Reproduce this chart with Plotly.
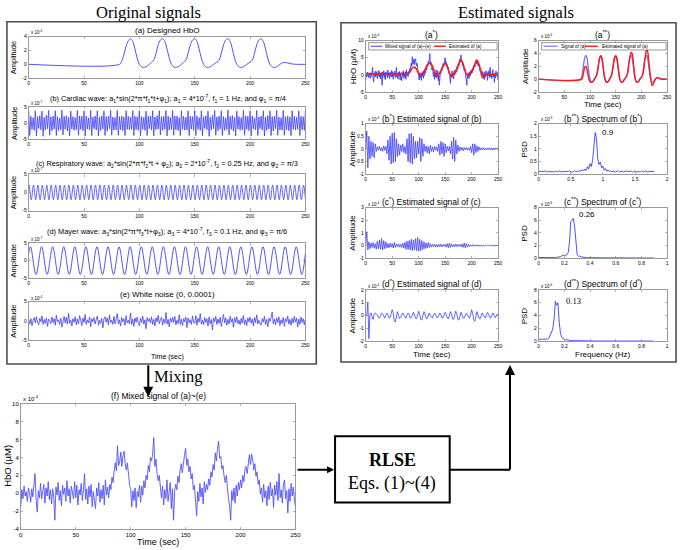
import numpy as np
import plotly.graph_objects as go

# ======================= DATA (values in units of each axis multiplier) =======================
# (a) Designed HbO  (x10^-4)
hbo_t = [0, 82, 84, 86, 88, 90, 92, 94, 96, 98, 100, 103, 106, 109, 111, 113, 115, 117, 119, 121,
         123, 125, 127, 129, 132, 135, 138, 140, 142, 144, 146, 148, 150, 152, 154, 156, 158, 161, 164, 167,
         170, 172, 174, 176, 178, 180, 182, 184, 186, 188, 191, 194, 197, 200, 202, 204, 206, 208, 210, 212,
         214, 216, 218, 221, 224, 227, 230, 234, 238, 242, 250]
hbo_v = [0, 0, 0.4, 1.4, 2.6, 3.4, 3.7, 3.3, 2.2, 0.9, 0.0, -0.45, -0.35, 0.0, 0.3, 0.6, 1.6, 2.8, 3.5, 3.7,
         3.3, 2.2, 0.9, 0.0, -0.45, -0.35, 0.0, 0.3, 0.6, 1.6, 2.8, 3.5, 3.7, 3.3, 2.2, 0.9, 0.0, -0.45, -0.35, 0.0,
         0.3, 0.6, 1.6, 2.8, 3.5, 3.7, 3.3, 2.2, 0.9, 0.0, -0.45, -0.35, 0.0, 0.3, 0.6, 1.6, 2.8, 3.5, 3.7, 3.3,
         2.2, 0.9, 0.0, -0.45, -0.35, 0.0, 0.25, 0.2, 0.05, 0, 0]

# (b) Cardiac wave (x10^-7), one value per second
cardiac_v = [
    3.9, -3.8, 2.1, -1.9, 1.7, -2.2, 3.8, -3.9, 2.0, -1.6, 2.3, -2.0, 3.7, -4.0, 1.8, -2.1, 2.4, -1.7, 3.9, -3.7,
    1.9, -2.3, 2.2, -1.8, 3.8, -3.8, 2.0, -2.2, 1.6, -2.0, 4.0, -3.6, 2.1, -1.9, 2.3, -2.4, 1.8, -3.9, 3.7, -1.8,
    2.0, -2.2, 1.7, -2.0, 3.9, -3.7, 2.2, -1.9, 2.1, -2.3, 3.8, -3.9, 2.2, -1.8, 1.6, -2.1, 3.9, -3.8, 1.9, -1.7,
    2.2, -2.1, 3.8, -3.9, 1.9, -2.2, 2.3, -1.8, 3.8, -3.8, 2.0, -2.4, 2.1, -1.7, 3.9, -3.7, 1.9, -2.1, 1.7, -2.1,
    3.9, -3.7, 2.0, -2.0, 2.2, -2.3, 1.9, -3.8, 3.8, -1.9, 2.1, -2.1, 1.8, -1.9, 3.8, -3.8, 2.1, -2.0, 2.0, -2.2,
    3.8, -3.9, 2.0, -1.9, 1.8, -2.2, 3.7, -3.8, 2.1, -1.7, 2.2, -2.1, 3.8, -3.9, 1.9, -2.0, 2.3, -1.8, 3.8, -3.6,
    2.0, -2.2, 2.1, -1.9, 3.9, -3.9, 2.1, -2.1, 1.7, -1.9, 3.9, -3.7, 2.2, -2.0, 2.2, -2.3, 1.7, -3.8, 3.8, -1.9,
    2.1, -2.1, 1.8, -2.1, 3.8, -3.8, 2.1, -1.8, 2.0, -2.2, 3.9, -3.8, 2.2, -1.9, 1.7, -2.2, 3.8, -3.9, 2.0, -1.6,
    2.3, -2.0, 3.7, -4.0, 1.8, -2.1, 2.4, -1.7, 3.9, -3.7, 1.9, -2.3, 2.2, -1.8, 3.8, -3.8, 2.0, -2.2, 1.6, -2.0,
    4.0, -3.6, 2.1, -1.9, 2.3, -2.4, 1.8, -3.9, 3.7, -1.8, 2.0, -2.2, 1.7, -2.0, 3.9, -3.7, 2.2, -1.9, 2.1, -2.3,
    3.8, -3.9, 2.2, -1.8, 1.6, -2.1, 3.9, -3.8, 1.9, -1.7, 2.2, -2.1, 3.8, -3.9, 1.9, -2.2, 2.3, -1.8, 3.8, -3.8,
    2.0, -2.4, 2.1, -1.7, 3.9, -3.7, 1.9, -2.1, 1.7, -2.1, 3.9, -3.7, 2.0, -2.0, 2.2, -2.3, 1.9, -3.8, 3.8, -1.9,
    2.1, -2.1, 1.8, -1.9, 3.8, -3.8, 2.1, -2.0, 2.0, -2.2, 3.8]

# (c) Respiratory wave (x10^-7): value at start, at each crest/trough, and at the end
resp_v = [1.7,
          2, -2, 2, -2, 2, -2, 2, -2, 2, -2, 2, -2, 2, -2, 2, -2, 2, -2, 2, -2,
          2, -2, 2, -2, 2, -2, 2, -2, 2, -2, 2, -2, 2, -2, 2, -2, 2, -2, 2, -2,
          2, -2, 2, -2, 2, -2, 2, -2, 2, -2, 2, -2, 2, -2, 2, -2, 2, -2, 2, -2,
          2, -2, 2, -2, 2, -2, 2, -2, 2, -2, 2, -2, 2, -2, 2, -2, 2, -2, 2, -2,
          2, -2, 2, -2, 2, -2, 2, -2, 2, -2, 2, -2, 2, -2, 2, -2, 2, -2, 2, -2,
          2, -2, 2, -2, 2, -2, 2, -2, 2, -2, 2, -2, 2, -2, 2, -2, 2, -2, 2, -2,
          2, -2, 2, -2, 2,
          -1.7]

# (d) Mayer wave (x10^-7): start, crests/troughs, end
mayer_v = [2,
           4, -4, 4, -4, 4, -4, 4, -4, 4, -4, 4, -4, 4, -4, 4, -4, 4, -4, 4, -4,
           4, -4, 4, -4, 4, -4, 4, -4, 4, -4, 4, -4, 4, -4, 4, -4, 4, -4, 4, -4,
           4, -4, 4, -4, 4, -4, 4, -4, 4, -4,
           2]

# (e) White noise (x10^-4), one value per second
noise_v = [
    0.3, -0.8, 0.6, -1.2, 0.2, 0.9, -0.5, 1.1, -0.3, -1.0, 0.7, -0.2, 1.3, -0.9, 0.4, -0.6, 0.8, -1.4, 0.5, 0.1,
    -0.7, 1.0, -0.4, 0.6, -1.1, 1.5, -0.2, 0.3, -0.9, 0.7, -1.6, 0.4, 1.2, -0.5, 0.9, -0.8, 2.0, -0.6, 0.2, -1.3,
    0.6, -0.3, 1.1, -1.0, 0.5, -0.7, 1.4, 0.1, -1.2, 0.8, -0.4, 1.7, -0.9, 0.3, -0.5, 1.0, -1.5, 0.6, -0.2, 0.9,
    -0.8, 0.4, 1.3, -1.1, 0.2, -0.6, 0.7, -1.8, 0.5, 1.1, -0.3, 0.8, -1.0, 1.6, -0.4, 0.2, -0.9, 1.2, -0.7, 0.5,
    1.9, -0.8, 0.3, -1.3, 0.9, -0.2, 0.6, -1.1, 1.4, -0.5, 0.2, -0.7, 2.1, -0.9, 0.5, -1.4, 0.8, -0.3, 1.0, -0.6,
    -1.2, 0.7, -0.4, 1.3, -0.8, 0.3, -2.0, 0.9, -0.1, 0.6, -0.5, 1.1, -0.9, 0.4, -1.3, 0.8, -0.2, 1.5, -0.7, 0.3,
    1.0, -1.1, 0.5, -0.6, 2.2, -0.8, 0.4, -1.5, 0.7, -0.3, 0.9, -0.4, 1.2, -1.0, 0.2, -0.7, 1.6, -0.9, 0.5, -1.2,
    0.6, -0.2, 1.0, -1.7, 0.8, -0.5, 0.3, -0.9, 1.3, -0.4, -0.6, 1.4, -1.1, 0.7, -0.3, 1.9, -0.8, 0.2, -1.0, 0.9,
    -0.4, 0.6, -1.3, 1.1, -0.7, 0.4, -2.3, 0.8, -0.2, 1.2, -0.9, 0.5, -0.6, 1.0, -1.4, 0.3, 1.7, -0.5, 0.8, -1.1,
    0.4, -0.8, 1.2, -0.3, 0.6, -1.6, 0.9, -0.4, 1.1, -0.7, 0.2, -1.0, 0.7, -0.5, 1.4, -0.9, 0.3, -1.2, 0.8, -0.2,
    1.0, -0.6, 0.5, -1.3, 0.9, -0.4, 1.6, -0.8, 0.2, -0.7, -1.1, 0.6, -0.3, 1.2, -0.9, 0.4, -1.5, 0.7, -0.1, 1.0,
    2.3, -0.7, 0.5, -1.0, 0.8, -0.4, 1.1, -1.2, 0.3, -0.6, 0.9, -1.4, 0.6, -0.2, 1.3, -0.8, 0.4, -1.1, 0.7, -0.5,
    1.2, -0.3, 0.8, -1.6, 0.5, -0.9, 1.0, -0.4, 0.6, -1.0, 0.4]

# (f) Mixed signal of (a)~(e) (x10^-4), one value per second
mixed_v = [
    -1.5, 0.4, -0.6, 0.8, -0.3, 0.2, -0.9, 0.6, 0.1, -1.0, 0.5, -0.4, 1.0, 2.2, -0.8, -2.1, 0.3, -0.5, 1.1, -0.6,
    0.2, 1.0, -1.1, 0.6, -0.3, 1.3, -0.7, 0.4, -1.2, 0.5, -0.4, -3.0, 0.7, -0.2, 1.2, -0.8, 0.3, -1.4, 0.9, -0.1,
    0.6, -0.9, 1.4, -0.3, 0.5, -1.1, 0.8, 0.0, -0.6, 1.3, -0.5, 0.9, -1.3, 0.4, -0.2, 1.1, -0.8, 0.3, 2.2, -0.7,
    0.5, -1.2, 0.8, -0.4, 1.0, -1.5, 0.2, -0.9, -1.7, 0.6, -0.3, 1.2, -1.0, 0.4, -0.6, 0.9, -1.3, 1.5, -0.2, 0.7,
    -0.5, 1.0, 0.4, 1.8, 1.2, 2.6, 3.4, 2.5, 5.3, 3.1, 3.5, 4.6, 3.0, 4.2, 4.7, 3.3, 2.6, 3.4, 1.8, 0.9,
    0.5, -1.5, 0.3, -0.8, 0.6, -1.6, 0.2, -0.4, 0.9, -1.0, 0.8, -0.2, 1.4, 0.6, 2.0, 1.5, 3.1, 2.4, 4.0, 3.6,
    4.4, 6.2, 3.0, 3.8, 2.2, 1.4, 2.0, 0.3, -0.5, 0.8, -1.3, 0.4, -0.6, 1.5, -0.9, 0.2, 1.2, -1.7, 0.5, -3.0,
    0.3, 1.0, 0.4, 1.9, 1.2, 2.6, 3.3, 2.3, 3.5, 4.3, 5.0, 3.1, 3.8, 2.4, 3.0, 1.6, 2.2, 0.4, 0.9, -0.7,
    -2.5, 0.2, -0.9, 1.1, -0.4, 0.6, -1.2, 1.3, 0.1, 1.0, 0.4, 1.6, 0.9, 2.4, 1.8, 3.2, 2.6, 4.5, 3.6, 5.0,
    5.8, 3.9, 4.1, 2.7, 3.1, 1.9, 1.2, 2.0, 0.2, -0.6, -1.4, -3.0, 0.3, -0.8, 0.6, -1.1, 0.9, -0.3, 1.2, 0.4,
    1.5, 0.6, 2.0, 1.3, 2.8, 3.0, 2.2, 3.6, 4.3, 3.2, 4.4, 3.8, 2.6, 3.3, 1.9, 2.4, 1.0, 1.5, -0.1, 0.6,
    -1.0, 1.0, -0.5, 0.3, -1.4, 0.8, -0.7, 1.2, -0.3, 0.5, -1.6, 0.9, -0.2, 1.3, -0.8, 2.2, -0.5, 0.4, -1.1, 1.0,
    1.5, -0.6, 0.3, -2.2, 0.5, -0.9, 1.1, -0.3, 0.7, -0.8, -1.5]

# (a*) Estimated of (a) (x10^-4)
est_a_t = [0, 10, 20, 30, 40, 50, 60, 70, 80, 84, 88, 92, 96, 100, 104, 108, 112, 116, 121, 126,
           130, 134, 138, 142, 146, 150, 154, 158, 162, 166, 170, 174, 177, 180, 183, 186, 190, 194, 198, 202,
           206, 210, 214, 218, 222, 226, 232, 240, 250]
est_a_v = [0.3, 0.4, 0.2, 0.5, 0.3, 0.4, 0.2, 0.5, 0.3, 1.0, 2.0, 2.3, 1.6, 0.5, 0.2, 0.6, 1.5, 2.8, 3.5, 2.6,
           0.8, -0.3, 0.2, 1.2, 2.6, 3.3, 2.4, 0.6, -0.5, 0.0, 1.2, 2.6, 3.6, 4.3, 3.6, 2.0, 0.3, -0.3, 0.4, 1.6,
           3.0, 4.3, 3.0, 0.8, -0.8, -0.2, 0.1, 0.0, 0.0]

# (a**) Estimated signal of (a) (x10^-4)
est_a2_t = [0, 84, 86, 88, 90, 92, 94, 96, 98, 100, 103, 106, 109, 112, 115, 117, 119, 121, 123, 125,
            127, 129, 132, 135, 138, 141, 144, 146, 148, 150, 152, 154, 156, 158, 161, 164, 167, 170, 173, 176,
            178, 180, 182, 184, 186, 188, 191, 194, 197, 200, 203, 206, 208, 210, 212, 214, 216, 218, 221, 224,
            227, 230, 234, 238, 250]
est_a2_v = [0, 0, 0.5, 1.3, 1.9, 2.0, 1.5, 0.7, 0.0, -0.4, -0.5, -0.3, 0.1, 0.5, 1.4, 2.5, 3.3, 3.6, 3.3, 2.2,
            0.9, 0.0, -0.5, -0.4, 0.0, 0.4, 1.5, 2.6, 3.3, 3.6, 3.3, 2.3, 1.0, 0.0, -0.5, -0.4, 0.0, 0.3, 0.9, 2.6,
            3.6, 4.2, 4.0, 2.8, 1.2, 0.0, -0.5, -0.4, 0.0, 0.3, 0.9, 2.6, 3.8, 4.6, 4.3, 3.0, 1.5, 0.2, -1.0, -0.6,
            0.0, 0.2, 0.15, 0.0, 0.0]

# (b*) Estimated signal of (b) (x10^-4), one value every 2 s
est_b_v = [
    0.0, 0.7, -0.75, 0.5, -0.4, 0.3, -0.3, 0.25, -0.35, 0.2,
    -0.1, 0.08, -0.05, 0.1, -0.08, 0.05, -0.1, 0.12, -0.06, 0.1,
    -0.2, 0.35, -0.45, 0.5, -0.6, 0.62, -0.55, 0.65, -0.5, 0.4,
    -0.3, 0.2, -0.25, 0.15, -0.1, 0.2, -0.15, 0.1,
    -0.2, 0.4, -0.5, 0.6, -0.55, 0.62, -0.6, 0.5, -0.4, 0.3,
    -0.35, 0.3, -0.2, 0.45, -0.5, 0.4, -0.3, 0.2,
    -0.1, 0.12, -0.15, 0.1, -0.2, 0.15, -0.1, 0.08, -0.12, 0.1, -0.05, 0.08, -0.1, 0.2,
    -0.25, 0.3, -0.2, 0.25, -0.3, 0.2, -0.15, 0.1, -0.08, 0.1,
    -0.2, 0.3, -0.4, 0.45, -0.5, 0.35, -0.2, 0.15, -0.1, 0.08,
    -0.05, 0.06, -0.08, 0.05, -0.04, 0.06, -0.05, 0.04, -0.06, 0.1,
    -0.15, 0.2, -0.25, 0.2, -0.15, 0.12, -0.1, 0.08,
    -0.05, 0.04, -0.03, 0.05, -0.04, 0.03, -0.05, 0.04, -0.03, 0.05, -0.04, 0.03, -0.05, 0.04, -0.03, 0.04,
    -0.02, 0.0]

# (b**) Spectrum of (b*) (x10^-3), frequency step 0.02 Hz from 0 to 1.8
spec_b_v = [
    0.1, 0.12, 0.09, 0.11, 0.1, 0.13, 0.08, 0.1, 0.12, 0.09, 0.11, 0.1, 0.08, 0.12, 0.1, 0.09, 0.13, 0.1, 0.08, 0.11,
    0.1, 0.12, 0.09, 0.1, 0.13, 0.08, 0.07, 0.1, 0.14, 0.09, 0.12, 0.1, 0.15, 0.11, 0.18,
    0.12, 0.2, 0.15, 0.3, 0.2, 0.42, 0.3, 0.55, 1.1, 1.65, 1.4, 0.6, 0.38, 0.48, 0.25, 0.32, 0.15, 0.22, 0.12, 0.16, 0.1,
    0.13, 0.09, 0.12, 0.1, 0.08, 0.11, 0.13, 0.09, 0.1, 0.12, 0.08, 0.1, 0.13, 0.1, 0.09, 0.11, 0.12, 0.08, 0.1, 0.13,
    0.09, 0.11, 0.1, 0.08, 0.12, 0.1, 0.09, 0.13, 0.1, 0.08, 0.11, 0.1, 0.12, 0.09, 0.1]

# (c*) Estimated signal of (c) (x10^-4), every 2 s
est_c_v = [
    0.0, 1.1, -0.35, 0.3, -0.25, 0.2, -0.15, 0.25, -0.2, 0.15,
    -0.3, 0.35, -0.25, 0.45, -0.3, 0.55, -0.35, 0.4, -0.25, 0.3,
    -0.2, 0.15, -0.18, 0.2, -0.12, 0.15, -0.2, 0.25, -0.15, 0.12, -0.1, 0.15, -0.12, 0.1, -0.15,
    0.2, -0.2, 0.25, -0.3, 0.35, -0.3, 0.4, -0.35, 0.5, -0.4, 0.45, -0.35, 0.55, -0.4, 0.65, -0.45, 0.5, -0.4, 0.4, -0.3,
    0.3, -0.25, 0.2, -0.2, 0.25, -0.15, 0.15, -0.12, 0.1, -0.1,
    0.12, -0.1, 0.08, -0.12, 0.1, -0.08, 0.12, -0.1, 0.08, -0.06,
    0.1, -0.12, 0.15, -0.18, 0.2, -0.15, 0.12, -0.1, 0.08, -0.1,
    0.12, -0.08, 0.1, -0.06, 0.08, -0.1, 0.12, -0.15, 0.2, -0.18,
    0.15, -0.12, 0.1, -0.08, 0.06, -0.05, 0.08, -0.06, 0.05, -0.04,
    0.06, -0.05, 0.04, -0.06, 0.05, -0.04, 0.03, -0.05, 0.04, -0.03,
    0.05, -0.04, 0.03, -0.02, 0.04, -0.03, 0.02, -0.03, 0.02, -0.01,
    0.0]

# (c**) Spectrum of (c*) (x10^-6), step 0.01 Hz from 0 to 0.9
spec_c_v = [
    0.1, 0.08, 0.1, 0.09, 0.1, 0.11, 0.1, 0.09, 0.1, 0.12, 0.1, 0.11, 0.12, 0.1, 0.13, 0.15, 0.18, 0.25,
    0.35, 0.5, 0.45, 0.4, 0.55, 0.9, 2.5, 5.8, 6.0, 6.3, 5.0, 2.0, 0.5, 0.3, 0.35, 0.2, 0.15, 0.12,
    0.1, 0.09, 0.08, 0.1, 0.09, 0.08, 0.07, 0.08, 0.07, 0.06, 0.07, 0.06, 0.07, 0.06, 0.05, 0.06, 0.05, 0.06, 0.05, 0.05,
    0.06, 0.05, 0.05, 0.04, 0.05, 0.05, 0.04, 0.05, 0.04, 0.05, 0.04, 0.04, 0.05, 0.04, 0.04, 0.04, 0.03, 0.04, 0.04, 0.03,
    0.04, 0.03, 0.04, 0.03, 0.03, 0.04, 0.03, 0.03, 0.03, 0.04, 0.03, 0.03, 0.04, 0.03, 0.03]

# (d*) Estimated signal of (d) (x10^-4), every 2 s
est_d_v = [
    0.0, 0.0, 1.05, -1.8, 0.1, 0.2, -0.1, -0.3, 0.1, 0.2,
    0.15, 0.05, -0.15, -0.2, 0.0, 0.2, 0.1, -0.1, -0.2, 0.05,
    0.2, 0.05, -0.2, -0.15, 0.1, 0.45, 0.2, -0.4, -0.5, 0.1,
    0.3, 0.0, -0.25, -0.15, 0.1, 0.2, 0.05, -0.15, -0.2, 0.05,
    0.2, 0.1, -0.2, -0.15, 0.1, 0.25, 0.05, -0.2, -0.25, 0.05,
    0.35, 0.1, -0.3, -0.35, 0.05, 0.3, 0.1, -0.2, -0.25, 0.1,
    0.2, 0.0, -0.15, -0.2, 0.05, 0.2, 0.05, -0.15, -0.15, 0.1,
    0.2, 0.05, -0.2, -0.15, 0.1, 0.25, 0.1, -0.2, -0.25, 0.05,
    0.3, 0.1, -0.25, -0.3, 0.1, 0.35, 0.1, -0.3, -0.35, 0.05,
    0.25, 0.05, -0.2, -0.2, 0.1, 0.2, 0.05, -0.15, -0.2, 0.05,
    0.45, 0.15, -0.35, -0.45, 0.1, 0.3, 0.05, -0.2, -0.25, 0.1,
    0.2, 0.05, -0.15, -0.2, 0.05, 0.25, 0.1, -0.15, -0.2, 0.05,
    0.2, 0.05, -0.15, -0.1, 0.1, 0.05]

# (d**) Spectrum of (d*) (x10^-6), step 0.01 Hz from 0 to 0.9
spec_d_v = [
    0.3, 0.35, 0.3, 0.32, 0.3, 0.28, 0.3, 0.35,
    0.5, 0.9, 1.5, 1.9, 3.5, 6.2, 5.6, 6.0, 3.0, 1.2, 0.6, 0.4, 0.3,
    0.25, 0.2, 0.18, 0.15, 0.12, 0.1, 0.1, 0.09, 0.08, 0.08, 0.07, 0.07, 0.06, 0.06, 0.06, 0.05, 0.05, 0.05, 0.05, 0.05,
    0.04, 0.04, 0.04, 0.04, 0.04, 0.04, 0.04, 0.04, 0.04, 0.04, 0.04, 0.04, 0.03, 0.03, 0.03, 0.03, 0.03, 0.03, 0.03,
    0.03, 0.03, 0.03, 0.03, 0.03, 0.03, 0.03, 0.03, 0.03, 0.03, 0.03, 0.03, 0.03, 0.03, 0.03, 0.03, 0.03, 0.03, 0.03,
    0.03, 0.03, 0.03, 0.03, 0.03, 0.03, 0.03, 0.03, 0.03, 0.03, 0.03]

# tick labels
time_ticks = [0, 50, 100, 150, 200, 250]
freq_ticks_b = [0, 0.5, 1, 1.5, 2]
freq_ticks_cd = [0, 0.2, 0.4, 0.6, 0.8, 1]

# sampling grids
t1 = np.arange(len(cardiac_v))                  # 1 s
t2 = np.arange(len(est_b_v)) * 2                 # 2 s
resp_t = np.concatenate([[0], 1 / 3 + 2 * np.arange(len(resp_v) - 2), [250]])
mayer_t = np.concatenate([[0], 5 / 3 + 5 * np.arange(len(mayer_v) - 2), [250]])
fb = np.arange(len(spec_b_v)) * 0.02
fc = np.arange(len(spec_c_v)) * 0.01
fd = np.arange(len(spec_d_v)) * 0.01

# ======================= LAYOUT HELPERS =======================
W, H = 685, 550
SANS = "Arial, Liberation Sans, sans-serif"
SERIF = "Times New Roman, Liberation Serif, serif"
BLUE = "rgb(60,60,255)"
RED = "rgb(255,25,25)"


def px(x):
    return x / W


def py(y):
    return 1 - y / H


fig = go.Figure()
layout = dict(width=W, height=H, margin=dict(l=0, r=0, t=0, b=0), autosize=False,
              paper_bgcolor="white", plot_bgcolor="white", showlegend=False)

# id, x0, x1, y0, y1 (pixels), xrange, xticks, yrange, yticks, tick font, exponent
panels = [
    (1, 27, 307, 34, 76, [0, 250], time_ticks, [-2, 4], [-2, 0, 2, 4], 5, "-4"),
    (2, 27, 307, 105, 138, [0, 250], time_ticks, [-5, 5], [-5, 0, 5], 5, "-7"),
    (3, 27, 307, 173, 210, [0, 250], time_ticks, [-5, 5], [-5, 0, 5], 5, "-7"),
    (4, 27, 307, 243, 278, [0, 250], time_ticks, [-5, 5], [-5, 0, 5], 5, "-7"),
    (5, 27, 307, 302, 341, [0, 250], time_ticks, [-5, 5], [-5, 0, 5], 5, "-4"),
    (6, 19, 297, 405, 532, [0, 250], time_ticks, [-4, 10], [-4, -2, 0, 2, 4, 6, 8, 10], 6, "-4"),
    (7, 368, 502, 38, 90, [0, 250], time_ticks, [-5, 10], [-5, 0, 5, 10], 5, "-4"),
    (8, 543, 673, 38, 90, [0, 250], time_ticks, [-2, 6], [-2, 0, 2, 4, 6], 5, "-4"),
    (9, 368, 502, 122, 173, [0, 250], time_ticks, [-1, 1], [-1, -0.5, 0, 0.5, 1], 5, "-4"),
    (10, 543, 673, 122, 173, [0, 2], freq_ticks_b, [0, 2], [0, 0.5, 1, 1.5, 2], 5, "-3"),
    (11, 368, 502, 207, 258, [0, 250], time_ticks, [-1, 3], [-1, 0, 1, 2, 3], 5, "-4"),
    (12, 543, 673, 207, 258, [0, 1], freq_ticks_cd, [0, 8], [0, 2, 4, 6, 8], 5, "-6"),
    (13, 368, 502, 290, 342, [0, 250], time_ticks, [-2, 2], [-2, -1, 0, 1, 2], 5, "-4"),
    (14, 543, 673, 290, 342, [0, 1], freq_ticks_cd, [0, 8], [0, 2, 4, 6, 8], 5, "-6"),
]

ann = []


def text(x, y, s, size, family=SANS, xanchor="center", yanchor="middle", angle=0, color="black"):
    ann.append(dict(x=px(x), y=py(y), xref="paper", yref="paper", text=s, showarrow=False,
                    font=dict(size=size, family=family, color=color), xanchor=xanchor, yanchor=yanchor,
                    textangle=angle, borderpad=0))


def ax_names(i):
    return ("x" if i == 1 else f"x{i}"), ("y" if i == 1 else f"y{i}")


for (i, x0, x1, y0, y1, xr, xt, yr, yt, fs, ex) in panels:
    xn, yn = ax_names(i)
    common = dict(showgrid=False, zeroline=False, showline=True, linecolor="#7f7f7f", linewidth=0.8,
                  mirror="ticks", ticks="inside", ticklen=2.5, tickwidth=0.6, tickcolor="#7f7f7f",
                  tickfont=dict(size=fs, family=SANS, color="black"), fixedrange=True)
    layout["xaxis" + ("" if i == 1 else str(i))] = dict(
        domain=[px(x0), px(x1)], anchor=yn, range=xr, tickvals=xt,
        ticktext=[f"{v:g}" for v in xt], **common)
    layout["yaxis" + ("" if i == 1 else str(i))] = dict(
        domain=[py(y1), py(y0)], anchor=xn, range=yr, tickvals=yt,
        ticktext=[f"{v:g}" for v in yt], **common)
    text(x0 + 1.5, y0 - 0.2, f"x 10<sup>{ex}</sup>", 4.5 if i != 6 else 6, xanchor="left", yanchor="bottom")


def line(i, x, y, color=BLUE, width=0.9, shape="linear"):
    xn, yn = ax_names(i)
    fig.add_trace(go.Scatter(x=x, y=y, xaxis=xn, yaxis=yn, mode="lines",
                             line=dict(color=color, width=width, shape=shape), hoverinfo="skip"))


# left column
line(1, hbo_t, hbo_v, color="rgb(80,80,255)", width=1, shape="spline")
line(2, t1, cardiac_v, width=0.8)
line(3, resp_t, resp_v, color="rgb(80,80,255)", width=0.9, shape="spline")
line(4, mayer_t, mayer_v, color="rgb(80,80,255)", width=1, shape="spline")
line(5, t1, noise_v, width=0.8)
line(6, t1, mixed_v, color="rgb(80,80,255)", width=0.9)
# right column
line(7, t1, mixed_v, width=0.9)
line(7, est_a_t, est_a_v, color=RED, width=1.6, shape="spline")
line(8, hbo_t, hbo_v, color="rgb(120,120,255)", width=1.4, shape="spline")
line(8, est_a2_t, est_a2_v, color=RED, width=1.4, shape="spline")
line(9, t2, est_b_v, width=0.8)
line(10, fb, spec_b_v, width=0.9)
line(11, t2, est_c_v, width=0.8)
line(12, fc, spec_c_v, width=0.9)
line(13, t2, est_d_v, width=0.8)
line(14, fd, spec_d_v, width=0.9)

# ---------- titles ----------
text(148, 10, "Original signals", 16.5, family=SERIF)
text(520, 10, "Estimated signals", 16.5, family=SERIF)

text(167, 28, "(a) Designed HbO", 8)
text(168, 97, "(b) Cardiac wave: a<sub>1</sub>*sin(2*π*f<sub>1</sub>*t+φ<sub>1</sub>); a<sub>1</sub> = 4*10<sup>-7</sup>, "
              "f<sub>1</sub> = 1 Hz, and φ<sub>1</sub> = π/4", 7.3)
text(167, 162, "(c) Respiratory wave: a<sub>2</sub>*sin(2*π*f<sub>2</sub>*t + φ<sub>2</sub>); a<sub>2</sub> = 2*10<sup>-7</sup>, "
               "f<sub>2</sub> = 0.25 Hz, and φ<sub>2</sub> = π/3", 7.3)
text(167, 231, "(d) Mayer wave: a<sub>3</sub>*sin(2*π*f<sub>3</sub>*t+φ<sub>3</sub>); a<sub>3</sub> = 4*10<sup>-7</sup>, "
               "f<sub>3</sub> = 0.1 Hz, and φ<sub>3</sub> = π/6", 7.4)
text(167, 295, "(e) White noise (0, 0.0001)", 8)
for yc in [55, 121.5, 191.5, 260.5, 321.5]:
    text(12, yc, "Amplitude", 7.5, angle=-90)
text(167, 358, "Time (sec)", 7)

text(158, 397, "(f) Mixed signal of (a)~(e)", 8.5)
text(6, 468, "HbO (µM)", 9.5, angle=-90)
text(158, 545, "Time (sec)", 9)

text(435, 32, "(a<sup>*</sup>)", 8.5)
text(608, 32, "(a<sup>**</sup>)", 8.5)
text(435, 117, "(b<sup>*</sup>) Estimated signal of (b)", 8.5)
text(608, 117, "(b<sup>**</sup>) Spectrum of (b<sup>*</sup>)", 8.5)
text(435, 201, "(c<sup>*</sup>) Estimated signal of (c)", 8.5)
text(608, 201, "(c<sup>**</sup>) Spectrum of (c<sup>*</sup>)", 8.5)
text(435, 284, "(d<sup>*</sup>) Estimated signal of (d)", 8.5)
text(608, 284, "(d<sup>**</sup>) Spectrum of (d<sup>*</sup>)", 8.5)

text(355, 64, "HbO (µM)", 8, angle=-90)
text(529, 64, "Amplitude", 8, angle=-90)
text(355, 147.5, "Amplitude", 8, angle=-90)
text(529, 147.5, "PSD", 8, angle=-90)
text(355, 232.5, "Amplitude", 8, angle=-90)
text(529, 232.5, "PSD", 8, angle=-90)
text(355, 316, "Amplitude", 8, angle=-90)
text(529, 316, "PSD", 8, angle=-90)
text(608, 103, "Time (sec)", 8)
text(435, 355, "Time (sec)", 8)
text(608, 355, "Frequency (Hz)", 8)

# peak labels (data coordinates)
ann.append(dict(x=0.95, y=1.65, xref="x10", yref="y10", text="0.9", showarrow=False, xanchor="left",
                font=dict(size=8, family=SANS, color="black")))
ann.append(dict(x=0.30, y=6.9, xref="x12", yref="y12", text="0.26", showarrow=False, xanchor="left",
                font=dict(size=8, family=SANS, color="black")))
ann.append(dict(x=0.20, y=6.3, xref="x14", yref="y14", text="0.13", showarrow=False, xanchor="left",
                font=dict(size=8.5, family=SERIF, color="black")))

# manual legends
shapes = []


def rect(x0, y0, x1, y1, color, width, fill=None):
    shapes.append(dict(type="rect", xref="paper", yref="paper", x0=px(x0), x1=px(x1), y0=py(y1), y1=py(y0),
                       line=dict(color=color, width=width), fillcolor=fill, layer="above"))


def seg(x0, y0, x1, y1, color, width):
    shapes.append(dict(type="line", xref="paper", yref="paper", x0=px(x0), x1=px(x1), y0=py(y0), y1=py(y1),
                       line=dict(color=color, width=width), layer="above"))


rect(371, 40, 501, 47.5, "#333333", 0.5, fill="white")
seg(373, 43.7, 385, 43.7, BLUE, 1)
text(387, 43.8, "Mixed signal of (a)~(e)", 4.6, xanchor="left")
seg(437, 43.7, 449, 43.7, RED, 1.4)
text(451, 43.8, "Estimated of (a)", 4.6, xanchor="left")

rect(546, 40, 672, 47.5, "#333333", 0.5, fill="white")
seg(548, 43.7, 562, 43.7, "rgb(120,120,255)", 1.2)
text(565, 43.8, "Signal of (a)", 4.6, xanchor="left")
seg(590, 43.7, 603, 43.7, RED, 1.4)
text(606, 43.8, "Estimated signal of (a)", 4.6, xanchor="left")

# outer boxes
rect(5, 19, 318, 365, "#4d4d4d", 1.6)
rect(343, 20, 682, 363, "#4d4d4d", 1.6)
# RLSE box
rect(337, 438, 453, 505, "black", 2)
text(395, 462, "<b>RLSE</b>", 18, family=SERIF)
text(395, 486, "Eqs. (1)~(4)", 18, family=SERIF)
text(153, 378, "Mixing", 16.5, family=SERIF, xanchor="left")

# connectors
seg(453, 472, 514, 472, "black", 2)


def arrow(xh, yh, dx, dy, size=1.0):
    ann.append(dict(x=px(xh), y=py(yh), xref="paper", yref="paper", ax=dx, ay=dy, axref="pixel", ayref="pixel",
                    text="", showarrow=True, arrowhead=2, arrowsize=size, arrowwidth=2, arrowcolor="black"))


arrow(148, 398, 0, -33)
arrow(336, 472, -38, 0, 0.7)
arrow(514, 366, 0, 106)

layout["annotations"] = ann
layout["shapes"] = shapes
fig.update_layout(**layout)
fig.write_html("out.html", config={"displayModeBar": False, "staticPlot": True},
               post_script="document.body.style.margin='0px';document.body.style.overflow='hidden';")
